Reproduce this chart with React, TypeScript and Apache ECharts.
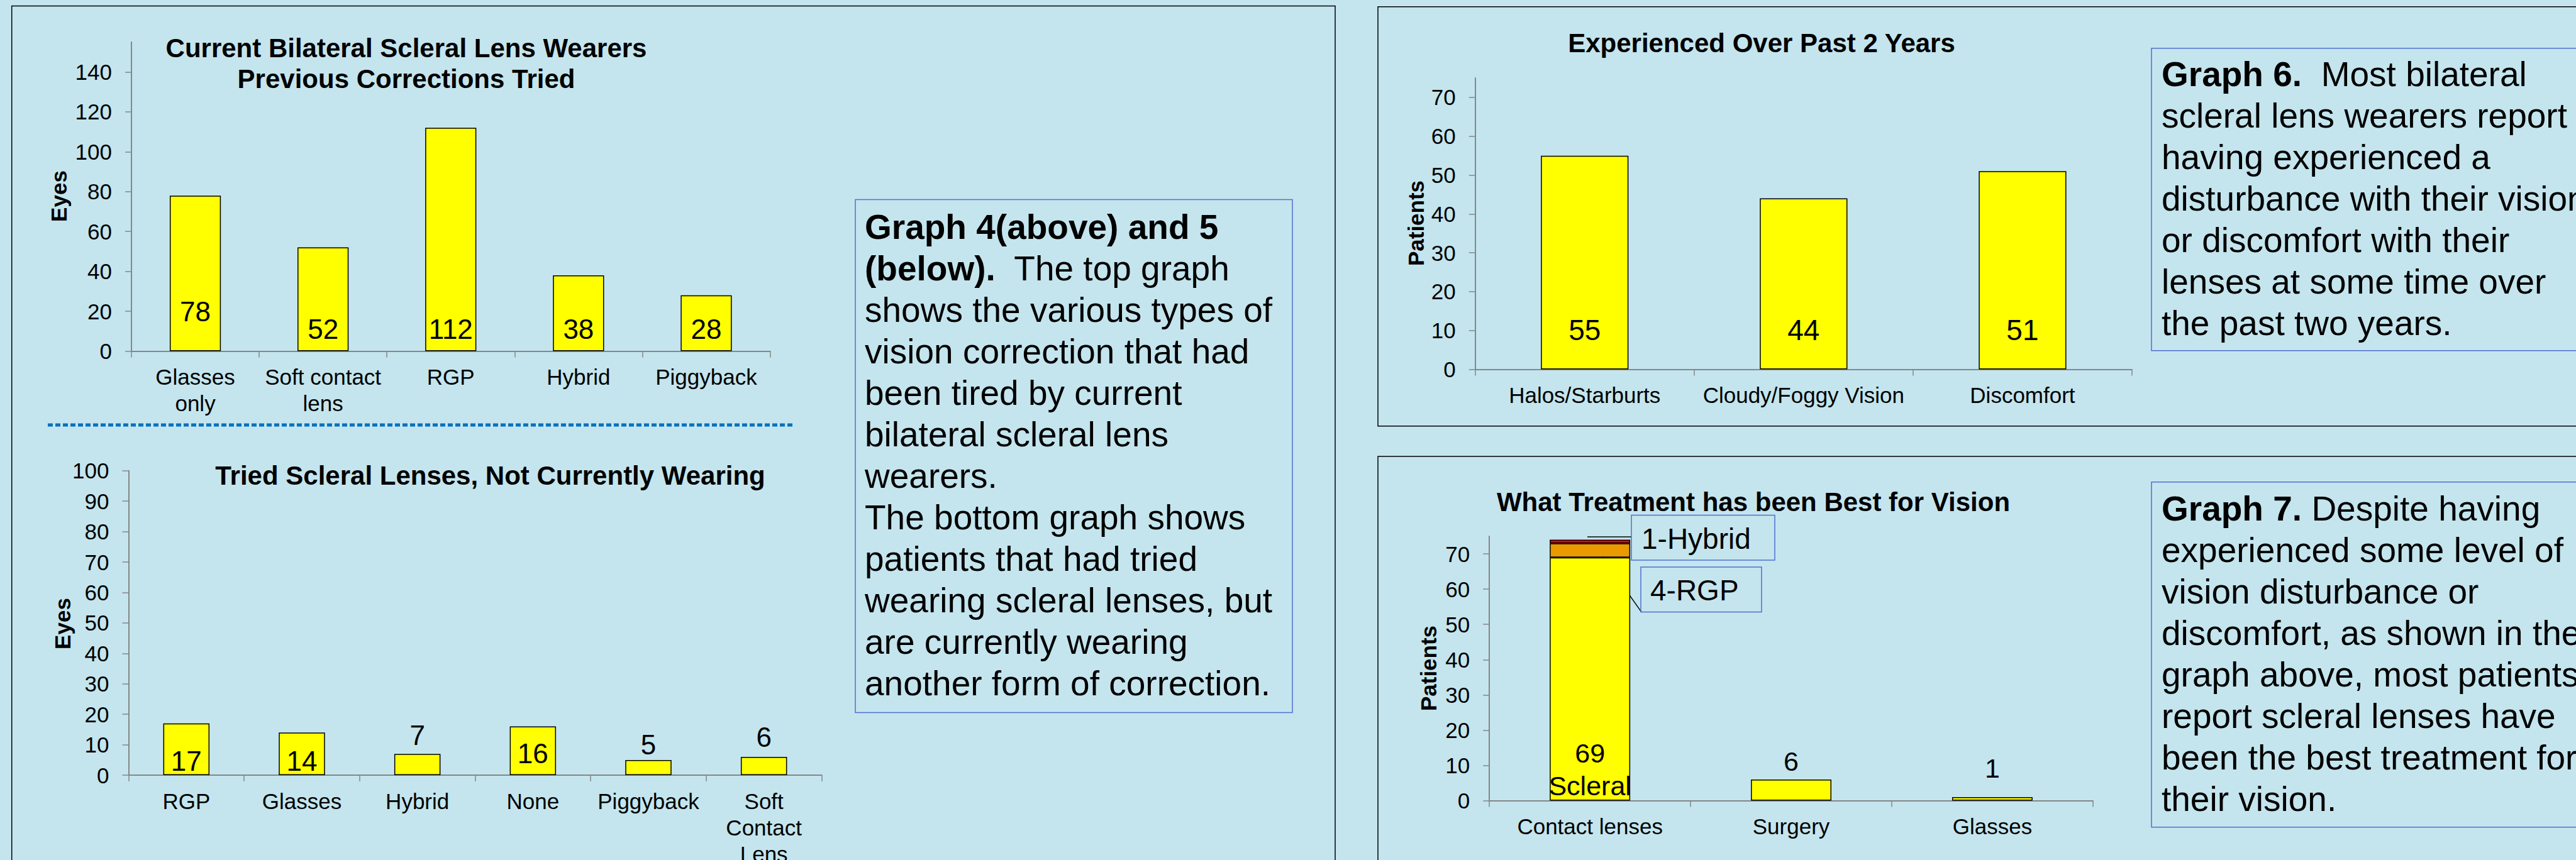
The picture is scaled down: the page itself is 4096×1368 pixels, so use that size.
import React, { useEffect, useRef } from "react";
import * as echarts from "echarts";

const FONT = '"Liberation Sans", Arial, Helvetica, sans-serif';

// Graph 4
const cats1 = ["Glasses\nonly", "Soft contact\nlens", "RGP", "Hybrid", "Piggyback"];
const vals1 = [78, 52, 112, 38, 28];
const ticks1 = [0, 20, 40, 60, 80, 100, 120, 140];

// Graph 5
const cats2 = ["RGP", "Glasses", "Hybrid", "None", "Piggyback", "Soft\nContact\nLens"];
const vals2 = [17, 14, 7, 16, 5, 6];
const ticks2 = [0, 10, 20, 30, 40, 50, 60, 70, 80, 90, 100];

// Graph 6
const cats3 = ["Halos/Starburts", "Cloudy/Foggy Vision", "Discomfort"];
const vals3 = [55, 44, 51];
const ticks3 = [0, 10, 20, 30, 40, 50, 60, 70];

// Graph 7
const cats4 = ["Contact lenses", "Surgery", "Glasses"];
const best4 = [69, 6, 1];
const rgp4 = [4, null, null];
const hybrid4 = [1, null, null];
const ticks4 = [0, 10, 20, 30, 40, 50, 60, 70];

const AXIS = "#868686";
const YELLOW = "#FFFF00";
const BOX = "#4F6FD0";

function yAx(gridIndex: number, max: number, ticks: number[]) {
  return {
    type: "value",
    gridIndex,
    min: 0,
    max,
    splitLine: { show: false },
    axisLine: { show: true, lineStyle: { color: AXIS, width: 2 } },
    axisTick: { show: true, length: 10, lineStyle: { color: AXIS, width: 1.5 }, customValues: ticks },
    axisLabel: { customValues: ticks, margin: 31, fontSize: 35, color: "#000", fontFamily: FONT },
  };
}

function xAx(gridIndex: number, data: string[]) {
  return {
    type: "category",
    gridIndex,
    data,
    axisLine: { show: true, lineStyle: { color: AXIS, width: 2 } },
    axisTick: { show: true, length: 10, lineStyle: { color: AXIS, width: 1.5 } },
    axisLabel: { interval: 0, margin: 20, fontSize: 35, lineHeight: 42, color: "#000", fontFamily: FONT },
  };
}

const lbl = (fontSize: number) => ({
  show: true,
  fontSize,
  lineHeight: fontSize,
  color: "#000",
  fontFamily: FONT,
  formatter: "{c}",
});

const barStyle = (color: string) => ({ color, borderColor: "#000", borderWidth: 1.5 });

function textBox(x: number, y: number, w: number, h: number, tx: number, ty: number, text: string) {
  return [
    { type: "rect", silent: true, shape: { x, y, width: w, height: h }, style: { fill: "none", stroke: BOX, lineWidth: 1.5 } },
    {
      type: "text",
      silent: true,
      x: tx,
      y: ty,
      style: {
        text,
        fontFamily: FONT,
        fontSize: 55,
        lineHeight: 66,
        fill: "#000",
        align: "left",
        verticalAlign: "top",
        rich: {
          b: { fontFamily: FONT, fontSize: 55, fontWeight: "bold", lineHeight: 66, fill: "#000" },
          r: { fontFamily: FONT, fontSize: 55, lineHeight: 66, fill: "#000" },
        },
      },
    },
  ];
}

const text45 =
  "{b|Graph 4(above) and 5}\n{b|(below).}{r|  The top graph}\n{r|shows the various types of}\n{r|vision correction that had}\n{r|been tired by current}\n{r|bilateral scleral lens}\n{r|wearers.}\n{r|The bottom graph shows}\n{r|patients that had tried}\n{r|wearing scleral lenses, but}\n{r|are currently wearing}\n{r|another form of correction.}";
const text6 =
  "{b|Graph 6.}{r|  Most bilateral}\n{r|scleral lens wearers report}\n{r|having experienced a}\n{r|disturbance with their vision}\n{r|or discomfort with their}\n{r|lenses at some time over}\n{r|the past two years.}";
const text7 =
  "{b|Graph 7.}{r| Despite having}\n{r|experienced some level of}\n{r|vision disturbance or}\n{r|discomfort, as shown in the}\n{r|graph above, most patients}\n{r|report scleral lenses have}\n{r|been the best treatment for}\n{r|their vision.}";

function title(x: number, y: number, text: string) {
  return {
    type: "text",
    silent: true,
    x,
    y,
    style: { text, fontFamily: FONT, fontSize: 42, fontWeight: "bold", lineHeight: 49, fill: "#000", align: "center", verticalAlign: "top" },
  };
}

function axisName(x: number, y: number, text: string) {
  return {
    type: "text",
    silent: true,
    x,
    y,
    rotation: Math.PI / 2,
    style: { text, fontFamily: FONT, fontSize: 35, fontWeight: "bold", fill: "#000", align: "center", verticalAlign: "middle" },
  };
}

export default function App() {
  const ref = useRef<HTMLDivElement>(null);
  useEffect(() => {
    document.body.style.margin = "0";
    const chart = echarts.init(ref.current!, undefined, { renderer: "svg" });
    const place2: [string, number][] = [
      ["insideBottom", 1],
      ["insideBottom", 1],
      ["top", 8],
      ["insideBottom", 13],
      ["top", 2],
      ["top", 10],
    ];
    const option: any = {
      animation: false,
      backgroundColor: "#C4E5EE",
      textStyle: { fontFamily: FONT },
      grid: [
        { left: 209, top: 67, width: 1015.5, height: 491.5, containLabel: false, outerBoundsMode: "none" },
        { left: 204.5, top: 748.7, width: 1102, height: 484.4, containLabel: false, outerBoundsMode: "none" },
        { left: 2345.7, top: 124, width: 1044.3, height: 463.6, containLabel: false, outerBoundsMode: "none" },
        { left: 2368.2, top: 853, width: 959.7, height: 420.6, containLabel: false, outerBoundsMode: "none" },
      ],
      xAxis: [xAx(0, cats1), xAx(1, cats2), xAx(2, cats3), xAx(3, cats4)],
      yAxis: [yAx(0, 155, ticks1), yAx(1, 100, ticks2), yAx(2, 75, ticks3), yAx(3, 75, ticks4)],
      series: [
        {
          type: "bar",
          xAxisIndex: 0,
          yAxisIndex: 0,
          barWidth: "40%",
          itemStyle: barStyle(YELLOW),
          label: { ...lbl(44), position: "insideBottom", distance: 13 },
          data: vals1.map((v, i) => (i === 0 ? { value: v, label: { distance: 41 } } : v)),
        },
        {
          type: "bar",
          xAxisIndex: 1,
          yAxisIndex: 1,
          barWidth: "40%",
          itemStyle: barStyle(YELLOW),
          label: { ...lbl(44) },
          data: vals2.map((v, i) => ({ value: v, label: { position: place2[i][0], distance: place2[i][1] } })),
        },
        {
          type: "bar",
          xAxisIndex: 2,
          yAxisIndex: 2,
          barWidth: "40%",
          itemStyle: barStyle(YELLOW),
          label: { ...lbl(46), position: "insideBottom", distance: 40 },
          data: vals3,
        },
        {
          type: "bar",
          xAxisIndex: 3,
          yAxisIndex: 3,
          stack: "best",
          barWidth: "40%",
          itemStyle: barStyle(YELLOW),
          label: { ...lbl(43) },
          data: best4.map((v, i) =>
            i === 0
              ? { value: v, label: { position: "insideBottom", distance: -2, lineHeight: 52, formatter: "{c}\nScleral" } }
              : { value: v, label: { position: "top", distance: i === 1 ? 7.5 : 24.5 } }
          ),
        },
        {
          type: "bar",
          xAxisIndex: 3,
          yAxisIndex: 3,
          stack: "best",
          barWidth: "40%",
          itemStyle: barStyle("#E99A00"),
          data: rgp4,
        },
        {
          type: "bar",
          xAxisIndex: 3,
          yAxisIndex: 3,
          stack: "best",
          barWidth: "40%",
          itemStyle: barStyle("#FF0000"),
          data: hybrid4,
        },
      ],
      graphic: [
        // panel borders
        { type: "rect", silent: true, shape: { x: 18.7, y: 9.6, width: 2104.3, height: 1500 }, style: { fill: "none", stroke: "#000", lineWidth: 1.5 } },
        { type: "rect", silent: true, shape: { x: 2191, y: 10.7, width: 2200, height: 667 }, style: { fill: "none", stroke: "#000", lineWidth: 1.5 } },
        { type: "rect", silent: true, shape: { x: 2191, y: 726, width: 2200, height: 800 }, style: { fill: "none", stroke: "#000", lineWidth: 1.5 } },
        // dotted separator
        { type: "line", silent: true, shape: { x1: 76, y1: 676, x2: 1264, y2: 676 }, style: { stroke: "#0070C0", lineWidth: 5, lineDash: [8, 4] } },
        // titles
        title(646, 52, "Current Bilateral Scleral Lens Wearers\nPrevious Corrections Tried"),
        title(779.5, 732, "Tried Scleral Lenses, Not Currently Wearing"),
        title(2801, 44, "Experienced Over Past 2 Years"),
        title(2788, 773.6, "What Treatment has been Best for Vision"),
        // axis names
        axisName(93, 312, "Eyes"),
        axisName(99, 992, "Eyes"),
        axisName(2251, 355, "Patients"),
        axisName(2271, 1063, "Patients"),
        // text boxes
        ...textBox(1360, 317.5, 695, 816, 1375, 328, text45),
        ...textBox(3421, 76.7, 1000, 481, 3437, 85, text6),
        ...textBox(3421, 766.7, 1000, 549, 3437, 776, text7),
        // callouts
        { type: "line", silent: true, shape: { x1: 2524, y1: 854, x2: 2594, y2: 854 }, style: { stroke: "#000", lineWidth: 1.5 } },
        { type: "rect", silent: true, shape: { x: 2594, y: 819.4, width: 228, height: 71.6 }, style: { fill: "none", stroke: BOX, lineWidth: 1.5 } },
        { type: "text", silent: true, x: 2610, y: 857, style: { text: "1-Hybrid", fontFamily: FONT, fontSize: 46, fill: "#000", align: "left", verticalAlign: "middle" } },
        { type: "line", silent: true, shape: { x1: 2546, y1: 883, x2: 2610, y2: 973.6 }, style: { stroke: "#000", lineWidth: 1.5 } },
        { type: "rect", silent: true, shape: { x: 2609, y: 902, width: 192, height: 71.6 }, style: { fill: "none", stroke: BOX, lineWidth: 1.5 } },
        { type: "text", silent: true, x: 2624, y: 939, style: { text: "4-RGP", fontFamily: FONT, fontSize: 46, fill: "#000", align: "left", verticalAlign: "middle" } },
      ],
    };
    chart.setOption(option);
    return () => chart.dispose();
  }, []);
  return <div ref={ref} style={{ position: "absolute", left: 0, top: 0, width: 4096, height: 1368 }} />;
}
